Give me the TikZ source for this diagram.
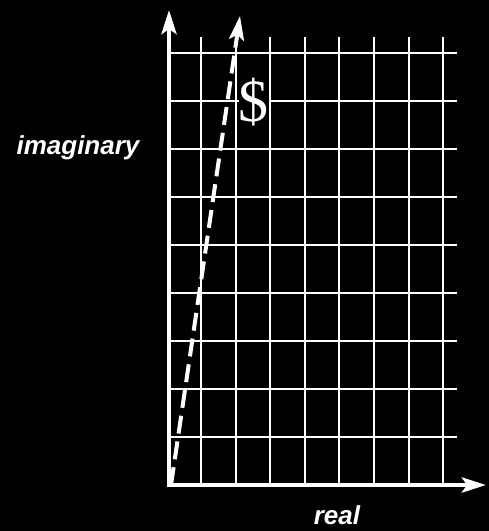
\documentclass[tikz,border=0pt]{standalone}
\usepackage{fontspec}
\setmainfont{Liberation Sans}
\newfontfamily\serifdollar{Liberation Serif}
\usetikzlibrary{arrows.meta}
\begin{document}
\begin{tikzpicture}[x=1pt,y=-1pt,
  gridline/.style={white,line width=2.8pt},
  axisline/.style={white,line width=4.5pt,-{Stealth[length=24pt,width=15pt,inset=5pt]}},
  dashline/.style={white,line width=4pt,dash pattern=on 18pt off 8pt,-{Stealth[length=24pt,width=15pt,inset=5pt]}},
  lab/.style={text=white,font=\fontsize{26}{26}\selectfont\bfseries\itshape}]
\fill[black] (0,0) rectangle (489,531);
\useasboundingbox (0,0) rectangle (489,531);
% grid
\foreach \x in {201,236,270,305,339,374,409,443}{
  \draw[gridline] (\x,37) -- (\x,485);
}
\foreach \y in {53,101,149,197,245,293,341,389,437}{
  \draw[gridline] (169,\y) -- (457,\y);
}
\coordinate (o) at (169,485);
\coordinate (ytip) at (169,10);
\coordinate (xtip) at (486,485);
\coordinate (dtip) at (240,16);
\draw[axisline] (167,485) -- (xtip);
\draw[axisline] (169,487) -- (ytip);
\draw[dashline] (171,485) -- (dtip);
\node[text=white,fill=black,inner sep=0pt,font=\serifdollar\fontsize{60}{60}\selectfont] (dol) at (253.5,102) {\$};
\node[lab] (im) at (78,148) {imaginary};
\node[lab] (re) at (337,515) {real};
\end{tikzpicture}
\end{document}
